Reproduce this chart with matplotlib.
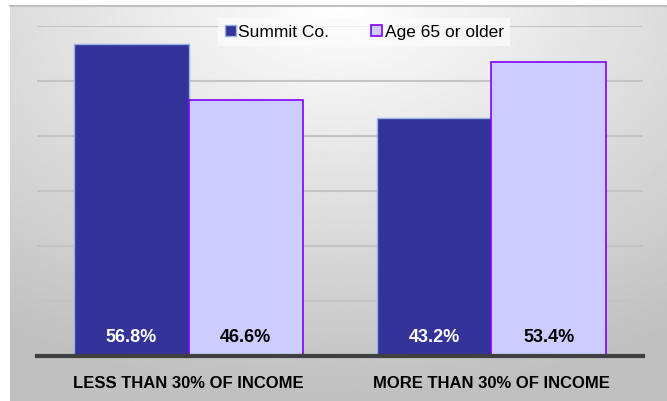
import matplotlib
matplotlib.use("Agg")
import matplotlib.pyplot as plt
import numpy as np

categories = ["LESS THAN 30% OF INCOME", "MORE THAN 30% OF INCOME"]
series_names = ["Summit Co.", "Age 65 or older"]
summit = [56.8, 43.2]
age65 = [46.6, 53.4]

fig = plt.figure(figsize=(6.67, 4.02), dpi=100)

# gradient background panel
bg = fig.add_axes([10 / 667, 0, 657 / 667, 395 / 402])
yy, xx = np.mgrid[0:1:200j, 0:1:300j]
r = np.sqrt(((xx - 0.5) * 1.1) ** 2 + ((yy - 0.0) * 1.0) ** 2)
shade = 1.0 - 0.25 * np.clip(r / 1.0, 0, 1)
bg.imshow(shade, cmap="gray", vmin=0, vmax=1, aspect="auto", extent=[0, 1, 1, 0])
bg.set_axis_off()
fig.add_artist(plt.Line2D([10 / 667, 1], [395 / 402, 395 / 402], color="#c0c0c0", lw=1.5))

ax = fig.add_axes([37 / 667, 45 / 402, 606 / 667, 330 / 402])
ax.set_facecolor("none")
x = np.arange(len(categories))
w = 0.377
b1 = ax.bar(x - w / 2, summit, w, color="#333399", edgecolor="#8fb4e3", lw=1, label=series_names[0], zorder=3)
b2 = ax.bar(x + w / 2, age65, w, color="#ccccff", edgecolor="#7f00ff", lw=1.2, label=series_names[1], zorder=3)

fam = ["Liberation Sans", "DejaVu Sans"]
for rect, v in zip(b1, summit):
    ax.text(rect.get_x() + rect.get_width() / 2, 3.6, f"{v}%", ha="center", va="center",
            color="white", fontsize=13, fontweight="bold", family=fam, zorder=4)
for rect, v in zip(b2, age65):
    ax.text(rect.get_x() + rect.get_width() / 2, 3.6, f"{v}%", ha="center", va="center",
            color="black", fontsize=13, fontweight="bold", family=fam, zorder=4)

ax.set_xlim(-0.5, 1.5)
ax.set_ylim(0, 60)
ax.set_yticks(np.arange(0, 61, 10))
ax.yaxis.grid(True, color="#c4c4c4", lw=1.5, zorder=0)
ax.tick_params(axis="y", left=False, labelleft=False)
ax.tick_params(axis="x", bottom=False, pad=10)
ax.set_xticks(x)
ax.set_xticklabels(categories, fontsize=12, fontweight="bold", family=fam)
for s in ["top", "right", "left"]:
    ax.spines[s].set_visible(False)
ax.spines["bottom"].set_color("#404040")
ax.spines["bottom"].set_linewidth(3)
ax.spines["bottom"].set_zorder(5)

leg = ax.legend(loc="center", bbox_to_anchor=(0.54, 0.982), ncol=2, frameon=True,
                handlelength=0.65, handleheight=0.65, handletextpad=0.15,
                columnspacing=2.4, borderpad=0.35,
                prop={"family": fam, "size": 12.5})
leg.get_frame().set_facecolor("#fbfbfb")
leg.get_frame().set_edgecolor("none")
leg.get_frame().set_boxstyle("square", pad=0)

fig.savefig("out.png", dpi=100)
